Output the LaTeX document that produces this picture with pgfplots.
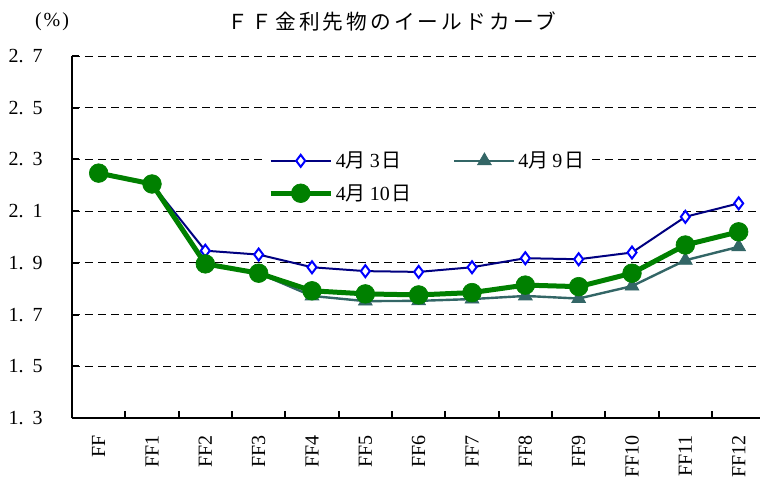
\documentclass[border=0pt]{standalone}
\usepackage{fontspec}
\setmainfont{Liberation Serif}
\newfontfamily\jp{Noto Sans CJK JP}
\newfontfamily\jpt[LetterSpace=15]{Noto Sans CJK JP}
\usepackage{pgfplots}
\pgfplotsset{compat=1.18}
\definecolor{c1line}{RGB}{0,0,128}
\definecolor{c1mark}{RGB}{0,0,255}
\definecolor{c2}{RGB}{51,102,102}
\definecolor{c3}{RGB}{0,128,0}
\newcommand{\lbl}[2]{#1{\jp 月}\hspace{0.2em}#2\hspace{0.1em}{\jp 日}}
\begin{document}
\begin{tikzpicture}
\useasboundingbox (-54pt,-48.75pt) rectangle (516pt,313.5pt);
\begin{axis}[
  at={(0pt,0pt)}, anchor=south west,
  scale only axis, width=516pt, height=271.5pt,
  xmin=-0.5, xmax=12.4, ymin=1.3, ymax=2.7,
  axis x line*=bottom, axis y line*=left,
  axis line style={line width=1.5pt, -},
  xtick={-0.5,0.5,1.5,2.5,3.5,4.5,5.5,6.5,7.5,8.5,9.5,10.5,11.5},
  xticklabels={},
  extra x ticks={0,1,2,3,4,5,6,7,8,9,10,11,12},
  extra x tick labels={FF,FF1,FF2,FF3,FF4,FF5,FF6,FF7,FF8,FF9,FF10,FF11,FF12},
  extra x tick style={major tick length=0pt},
  ytick={1.3,1.5,1.7,1.9,2.1,2.3,2.5,2.7},
  yticklabels={1.\hspace{0.45em}3,1.\hspace{0.45em}5,1.\hspace{0.45em}7,1.\hspace{0.45em}9,2.\hspace{0.45em}1,2.\hspace{0.45em}3,2.\hspace{0.45em}5,2.\hspace{0.45em}7},
  major tick length=5pt,
  tick align=inside,
  every tick/.append style={draw=black, line width=1.5pt},
  ymajorgrids,
  major grid style={black, line width=0.7pt, dash pattern=on 6pt off 3.75pt},
  tick label style={font=\fontsize{15}{18}\selectfont},
  yticklabel style={anchor=east, inner sep=0pt},
  yticklabel shift=21.75pt,
  xticklabel style={rotate=90, anchor=east, inner sep=0pt},
  xticklabel shift=12.75pt,
  legend columns=2,
  legend style={at={(0.279,0.754)}, anchor=north west, draw=none, fill=white,
    font=\fontsize{15}{18}\selectfont, inner sep=3pt, row sep=7pt,
    nodes={inner xsep=1pt}},
  legend cell align=left,
  /tikz/every odd column/.append style={column sep=1pt},
  /tikz/every even column/.append style={column sep=30pt},
  legend image code/.code={\draw[mark repeat=2,mark phase=2] plot coordinates {(0pt,0pt) (22.5pt,0pt) (45pt,0pt)};},
]
\addplot[color=c1line, line width=1.5pt, mark=diamond*, mark size=4.5pt,
  mark options={draw=c1mark, fill=white, line width=1.5pt}] coordinates {
  (0,2.250) (1,2.205) (2,1.947) (3,1.932) (4,1.883) (5,1.868) (6,1.865)
  (7,1.883) (8,1.918) (9,1.914) (10,1.940) (11,2.078) (12,2.130)};
\addlegendentry{\lbl{4}{3}}
\addplot[color=c2, line width=1.8pt, mark=triangle*, mark size=6pt,
  mark options={fill=c2, line width=0.5pt}] coordinates {
  (0,2.247) (1,2.205) (2,1.896) (3,1.860) (4,1.772) (5,1.752) (6,1.753)
  (7,1.760) (8,1.772) (9,1.762) (10,1.810) (11,1.910) (12,1.962)};
\addlegendentry{\lbl{4}{9}}
\addplot[color=c3, line width=3.75pt, mark=*, mark size=7pt,
  mark options={fill=c3, line width=0.5pt}] coordinates {
  (0,2.247) (1,2.205) (2,1.896) (3,1.860) (4,1.792) (5,1.780) (6,1.776)
  (7,1.785) (8,1.814) (9,1.808) (10,1.860) (11,1.969) (12,2.020)};
\addlegendentry{\lbl{4}{10}}
\end{axis}
\node[font={\jpt\fontsize{15.5}{18}\selectfont}] at (240pt,297pt) {ＦＦ金利先物のイールドカーブ};
\node[font={\fontsize{15}{18}\selectfont}] at (-15pt,297pt) {(\hspace{0.1em}\%\hspace{0.1em})};
\end{tikzpicture}
\end{document}
